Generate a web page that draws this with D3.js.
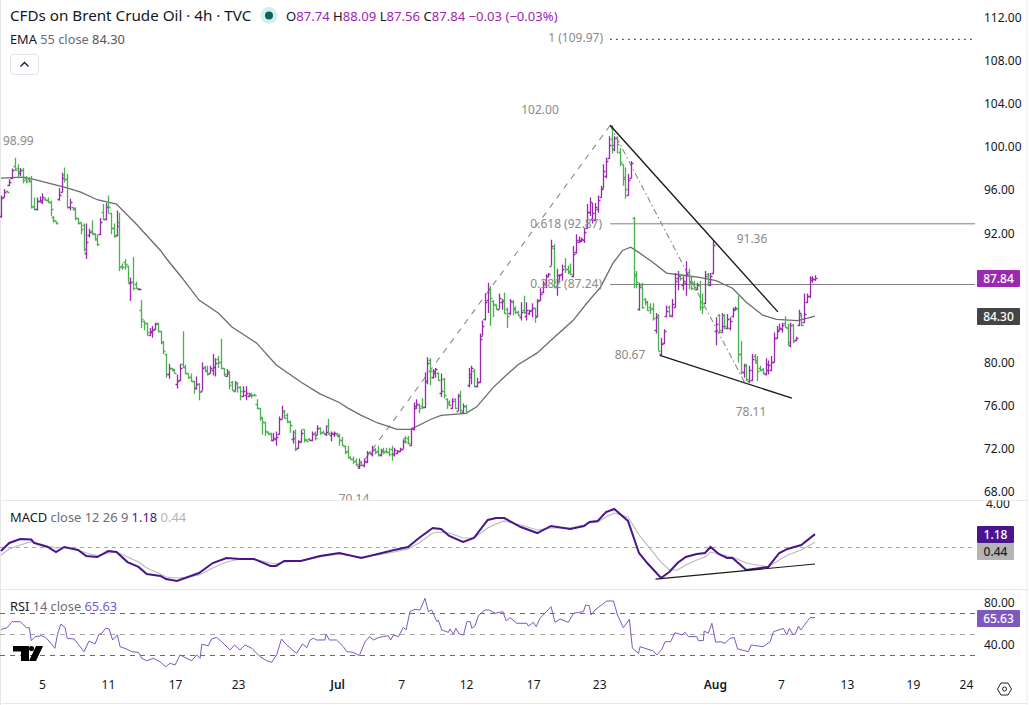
<!DOCTYPE html>
<html><head><meta charset="utf-8">
<script src="https://cdn.jsdelivr.net/npm/d3@7/dist/d3.min.js"></script>
<style>
html,body{margin:0;padding:0;background:#fff}
svg{display:block}
text{font-family:"Noto Sans",sans-serif}
.ax text{font-size:12px;fill:#131722;font-family:"Noto Sans",sans-serif}
</style></head><body><div id="c"></div>
<script>
const highs=[95.5,96.1,95.95,97,98,98.99,98.4,98.05,98.05,97.3,
97.2,97.3,95.3,95.3,95.4,95.7,95.3,95.3,95,93.6,
93.1,96.2,97.6,98.1,97.5,95.2,94.4,94.4,93.4,93,
92.9,92.9,92.4,93.2,92,91.9,93.4,94.7,94.8,95.5,
93.9,92.9,94.1,93.9,89.2,89.6,89,87.9,89.8,87.5,
86.9,85.8,83.9,83.7,83.2,83.4,83.7,83.7,82.9,82,
80.8,79.9,79.5,79.4,78.9,79.9,82.9,79.8,79,79,
78.3,78.7,78.1,80,79.7,79.7,79.7,80.8,80.4,80.6,
82.2,79.5,79.4,79.2,78.3,78.3,78.2,77.8,77.8,77.8,
77.2,77.2,77.1,76.6,75.8,74.9,74.5,73.6,73.5,73.5,
73.6,75,76,75.6,75.3,74.6,73.7,73.8,72.8,73.8,
73.8,72.9,73,73.6,73.6,74.2,74,73.7,74.2,74.8,
73.6,73.6,73.5,73.4,73.1,72.3,72.3,71.3,71.3,71.1,
71.1,70.9,71.1,71.8,71.8,72.3,72.1,72.3,72,72.1,
72.1,72.1,72.3,72.1,71.9,72.1,72.9,73.2,73.2,73.9,
76.3,76.6,76.2,76.7,79.1,80.5,80.4,79.4,79.5,79.1,
79,78.6,76.7,76.5,76.7,76.7,77.1,77.4,76.2,76.1,
79.5,79.7,79.4,78.6,82.7,83.9,86.4,87.4,87.1,85.8,
85.4,86.4,85.9,86.5,85.1,85.9,85.8,85.2,84.8,85.6,
86.2,85.6,84.9,85.5,85.1,85.9,86.9,87.6,88.2,88.3,
91.4,91,88.7,88.2,89.1,89.7,89,89.2,90.8,91.9,
91.7,91.6,92.5,94.7,95.3,94.8,94.8,95.5,96.4,98.4,
99,101,102,101,101,99.9,98.4,98.1,97.5,98.7,
93.5,88.5,87.4,87.4,86,85.7,85.5,85.5,84.6,84.5,
82.3,83.1,85.3,85.3,85.9,88.3,88.5,88.2,88,89.4,
88.7,88,87.6,87.4,87.6,86.4,88.5,88.3,88.3,91.36,
84.2,84.5,84.6,84.5,84.5,84.2,85.1,85.2,86.2,82,
79.9,79.9,79.7,80.8,80.8,80.6,79.7,79.5,80.4,80.2,
80.6,82.8,83.4,83.6,83.7,84.3,83.6,83.7,83.6,82.4,
84.9,84.5,86.4,86.4,88,88,88.09];
const lows=[93.4,95.3,95.8,96.4,97,97.8,97.1,97.3,96.6,96.6,
96.7,94.3,94.1,94.1,94.9,94.7,95,94.8,93.6,93,
92.8,95,95.8,96.7,94.3,94.1,94.1,93.2,92.8,91.9,
90.3,89.6,91.6,91.8,91.3,90.8,91.8,93.2,93.2,93.8,
91.9,91.6,91.7,88.5,88.6,88.6,87.5,85.7,86.7,86.8,
86.7,83.2,83,82.5,82.5,82.3,83,82.8,81.7,80.8,
78.6,78.5,79.2,79,77.6,78.3,79.5,78.9,78.5,78.2,
77.1,77.5,76.5,77.4,79.1,78.8,79,78.8,78.7,79.5,
79.4,78.7,78.7,77.5,77.4,77.4,77.2,76.5,76.8,76.5,
76.8,76.7,76.9,75.7,74.6,73.3,73.2,73.3,72.7,72.7,
72.3,73.3,74.8,74.8,74.4,73.5,72.5,71.8,72,72.6,
72.6,72.7,72.7,72.7,72.8,73.3,73.3,73.4,73.2,73.3,
72.7,73.1,73.1,72.3,72.3,71.5,71.1,71,70.6,70.4,
70.14,70.4,70.3,70.7,71.5,71.3,71.5,71.3,71.3,71.5,
71.6,71.3,70.9,71.3,71.5,71.7,72,72.5,72.4,72.3,
73.7,75.7,75.3,75.7,75.8,78,77.9,78.5,78.6,78.3,
76.8,76.7,75.7,76,75.7,75.7,75.5,75.3,75.3,75.3,
77.7,78,77.7,77.7,78.1,82.5,83.9,84.6,83.4,84.2,
84.9,85,84.9,84.5,83.2,84.4,84.4,84.5,84.3,83.9,
84.5,83.9,84.4,84.2,83.7,84.2,85.7,86.4,86.9,87.9,
89,86.9,86.2,87.5,87.6,88.3,88.2,88.1,87.9,90.1,
91.1,91.2,91.1,92.4,93.6,92.9,93.1,93.9,95.3,96.2,
97.1,98.9,99.4,99.6,99.4,98.2,96.4,95.2,95.5,97.1,
86.9,86.9,84.8,85,85.3,84.8,84.5,83.9,82.7,81.1,
80.67,81.7,84.2,84.2,84.2,85.1,86.7,87.6,86.7,86.2,
86.8,86.7,86.7,86.7,84.8,84.5,85.4,87.1,87.1,88.2,
81.6,82.7,82.8,83.1,83.1,83,84.2,84.9,80,78.9,
78.6,78.3,78.11,78.3,79.9,78.3,79.2,78.9,78.8,78.9,
79.2,80,82.2,83,82.8,83.2,81.6,81.4,81.8,82,
83.4,83.4,83.7,85.5,86,87.4,87.56];
const opens=[93.6,95.4,95.95,96.5,97.1,98.2,98,97.6,97.9,97.1,
97,96.8,94.5,94.2,95,94.9,95.2,95.1,94.9,93.5,
93.1,95.2,95.8,97.4,97,94.4,94.4,94.3,93.4,93,
92.8,90.2,91.8,92.2,91.9,91.5,91.9,94,93.3,94.5,
93.9,92.5,91.8,93,89,89.3,89,87.4,87.5,87.3,
86.8,84.9,83.9,83.7,82.6,82.8,83.1,83.7,82.9,81.9,
80.8,78.9,79.5,79.4,78,78.4,79.9,79.6,79,78.7,
78.3,77.6,78,77.4,79.6,79.3,79,79.3,79.6,80.3,
80.1,79.5,78.8,79.2,78.2,77.4,78.1,77.7,76.9,77,
76.9,77.1,77,76.2,75.8,74.9,74.5,73.6,73.5,72.8,
72.9,73.4,74.8,75.5,75.1,74.6,72.9,73.6,72.1,72.6,
73.8,72.9,72.9,72.8,73.5,73.3,73.9,73.6,73.4,74.1,
73.3,73.4,73.4,73.2,72.8,72.3,71.8,71.2,71.1,70.9,
70.4,70.8,70.5,70.8,71.7,71.5,72,71.8,71.4,71.9,
71.8,71.7,72,71.5,71.6,71.8,72,73,73,72.4,
73.8,75.8,76.1,76,75.9,78.3,80.2,78.7,79,79,
77.2,78.5,76.6,76.3,75.8,76.6,75.5,77,75.4,76,
77.9,78.9,79.2,77.8,78.2,82.5,84,85.8,86.5,85.7,
85.3,85,85.6,85.8,85,84.6,85.6,85.1,84.7,84.2,
84.9,84.3,84.6,84.9,85.1,84.3,85.8,86.5,87.3,88,
89,90.6,87,87.6,88.2,89,88.7,88.5,88,90.3,
91.2,91.3,91.4,92.5,94,93.3,93.2,94.2,95.4,96.2,
97.3,99,100.7,99.8,100.8,99.5,98.4,97.2,95.5,97.1,
93.4,88.2,85,87.2,85.9,85.6,85.2,85.1,83,84.4,
80.8,81.8,84.3,85.2,84.3,85.2,87.8,88.1,87.2,87.4,
88.4,87.6,87.4,86.8,87.2,85.6,85.5,88.2,87.2,88.3,
82.9,84.4,82.8,84.4,83.2,83.2,84.3,85,85,80.8,
79.1,79.7,78.3,78.4,80.6,80.2,79.5,79.4,78.9,79.3,
79.3,80.1,82.3,83,83.1,83.7,83.2,81.6,83.5,82.1,
83.5,84.4,83.8,85.6,86.2,87.7,87.74];
const closes=[95.3,95.8,95.85,96.7,97.9,97.9,97.8,97.9,96.9,96.8,
96.8,94.4,94.2,95,95.1,95.4,95.1,94.9,94.2,93.2,
92.9,95.5,97.1,97,94.4,94.9,94.2,93.4,92.9,92.4,
90.5,91.2,92.1,92,91.5,91,93,93.3,94.4,94.4,
92.5,91.7,92.7,88.9,88.9,89.1,87.5,87.5,86.9,86.9,
86.85,84,83.7,82.8,82.9,83,83.6,82.9,81.9,81.1,
78.9,79.5,79.3,79,78.3,79.5,79.6,79,78.7,78.3,
77.6,78,77.3,79.5,79.2,78.9,79.5,79.6,80,80.1,
79.5,78.9,79,77.9,77.5,78.1,77.7,77.4,77.4,77.2,
77,77,76.95,75.8,75,74.5,73.7,73.4,72.8,73,
73.1,74.8,75.5,74.9,74.5,74.2,73,72,72.7,73.5,
72.8,72.75,72.8,73.4,73,73.9,73.5,73.5,73.6,73.5,
73.5,73.5,73.3,72.8,72.4,71.7,71.2,71.05,70.9,70.6,
70.8,70.5,70.9,71.6,71.6,71.9,71.7,71.5,71.8,71.7,
71.7,71.5,71.5,71.9,71.8,72,72.7,72.6,72.5,73.9,
76,76.2,75.8,75.9,78.3,80,79.2,79.2,79.4,78.4,
77.4,77,76.2,76.1,76.4,75.8,76.9,75.6,76,75.4,
78.7,79.5,77.8,78.2,82.2,83.4,85.6,86.8,86,85.4,
85,86,85.7,84.6,84.3,85.7,85,84.7,84.4,84.7,
84.7,84.9,84.8,85.1,84.2,85.7,86.4,87.3,88,88.2,
90.8,87.5,88.1,88.1,88.7,88.7,88.4,88.2,90.1,91.4,
91.4,91.5,92.1,94,94.9,93.9,94.4,95.1,96.1,97.8,
98.7,100.2,100.2,100.8,100.3,98.6,97,96.1,96.9,98.5,
88,87.5,87,85.2,85.7,84.9,85,84.1,84.2,81.1,
81.7,82.9,84.8,84.4,85.4,87.6,88,87.8,87.6,88.2,
87.5,86.9,87,87.2,85.2,85.2,88,87.5,88,90.9,
83.6,83,83.4,83.4,84,83.9,84.9,85.1,80.8,79.1,
79.8,78.5,79.3,80.3,80.1,79.2,79.3,79,79.9,79.8,
80.1,82.3,82.9,83.2,83.5,83.3,81.9,83.5,82,82.3,
84.6,83.5,84.5,86.2,87.8,87.75,87.84];

const emaBars=[0,8,12,18,24,29,35,42,49,58,60,66,72,79,84,93,100,109,116,123,126,131,137,144,149,156,160,169,173,179,184,188,195,201,208,213,218,222.5,226,229,232,237,242,248,254,260,266,271,277,282,289.5,293,296];
const emaValues=[97.1,97.2,97,96.6,96.2,95.8,95.1,94.7,92.9,90.4,89.7,87.8,85.8,84.6,83.3,81.8,79.8,78.2,77.1,76.3,75.8,75.1,74.4,73.8,73.8,74.7,75.1,75.3,75.9,77.7,78.9,79.8,80.9,82.3,83.9,85.5,87,89.2,90.4,90.7,90.2,89.3,88.3,88.1,87.9,87.6,86.9,85.6,84.4,84,83.9,84.1,84.3];

const macdBars=[0,3,7,11,12,17,20,23,28,31,35,39,42,46,50,53,58,60,64,68,72,77,82,87,92,98,100,103,109,116,123,131,137,143,148,152,157,160,163,168,172,177,180,183,189,195,200,207,212,214,217,220,223,228,232,235,240,243,246,249,253,256,258,261,264,266,271,279,283,286,291,296];
const macdValues=[-.37,.37,.73,.69,.37,0,-.46,0,-.28,-.83,-.92,-.37,-.46,-1.38,-1.83,-2.48,-2.66,-2.94,-3.12,-2.75,-2.39,-1.47,-1.01,-1.1,-1.1,-1.74,-1.74,-1.28,-1.28,-.83,-.55,-1.01,-.64,-.28,0,.83,1.74,1.65,1.01,.46,.83,2.48,2.66,2.66,1.83,1.28,1.93,1.65,1.93,2.29,2.39,3.21,3.49,2.39,-.55,-1.47,-2.84,-2.29,-1.47,-.92,-.64,-.55,0,-.64,-1.01,-1.01,-2.11,-1.83,-.55,-.18,.18,1.18];
const signalValues=[-.73,-.18,.18,.49,.46,.09,-.09,-.05,-.28,-.55,-.78,-.55,-.46,-.92,-1.38,-1.93,-2.48,-2.75,-2.84,-2.75,-2.57,-1.93,-1.38,-1.1,-1.1,-1.47,-1.56,-1.38,-1.28,-.92,-.64,-.92,-.73,-.46,-.18,.37,1.28,1.38,1.28,.83,.83,1.74,2.11,2.39,2.02,1.56,1.74,1.74,2.02,2.2,2.29,2.75,3.12,2.75,1.1,.18,-1.38,-2.11,-2.11,-1.65,-1.19,-.92,-.46,-.64,-.83,-.92,-1.47,-1.83,-1.19,-.73,-.28,.44];

const rsiBars=[0,1,2,4,7,9.3,10.3,11,12.4,14.8,16.6,19.6,20.5,21.8,23.3,24.1,26.6,30.2,32,34.2,35.6,36.6,38,39.3,40.6,42.3,43.3,45.7,47.5,50,51.2,53,55.4,57.8,59.9,61.5,63.3,65.1,69.3,71.2,72.4,73,75.4,76.6,78.4,80.2,83.3,84.9,86.9,88.7,91.2,94.2,96.6,98.4,100.2,102,103.9,107.5,109.6,111.2,112.4,113.6,114.8,117.8,118.2,119.4,122,124.5,125.7,128.1,130.3,132.4,134,135.4,137.2,139,140.8,141.7,142.7,144.5,146.3,147.3,148.7,150.5,152.4,154.2,155.4,156.6,158.5,159,160.3,162.7,163.3,164.5,165.4,166.6,168.2,169.4,170.6,171.2,172.4,173.6,176,177.5,179.7,182.5,183.7,185.1,187.6,191.2,191.8,193.6,194.6,196,200,201.5,203.3,206.3,208.2,211.8,212.6,213.9,214.6,216,220.3,222.7,224.2,226.3,228.5,229.6,231.8,232.4,237.2,238.5,240.3,241.5,243.5,245.1,247.6,248.8,250,253,253.6,255.4,255.7,257.2,258.5,259.9,261.5,263.3,265.1,266.6,267.9,271.8,272.8,277.2,279.7,280.9,284.5,285.7,286.7,287.9,288.8,290,290.8,294.2,296];
const rsiValues=[53.8,55.4,55.4,61.7,61.7,56,56,43.7,47.5,48.4,45.9,36.4,49.1,59.5,56,45.9,45.2,33.2,43.3,40.5,49.7,50.6,55.4,54.8,44.3,49.1,37.9,35.7,33.2,32.5,26.8,24.6,26.8,23.6,18.9,22.1,20.5,30,24.6,30,26.8,40.2,38.9,45.2,46.8,42.7,34.8,39.5,34.8,39.5,36.4,28.4,24.6,23,30,45.2,39.5,31.6,40.5,37,44.3,45.9,44.3,44.3,50,44.3,44.3,37.9,33.2,32.5,29.4,42.7,47.5,44.3,46.5,47.5,48.4,44.3,49.1,47.5,56.4,53.8,71.3,73.5,72.9,84,71.3,72.9,61.7,63.3,53.8,51.6,54.8,49.7,55.4,50,49.1,61.7,61.7,55.4,57.9,67.5,72.9,72.9,69.7,71.3,62.4,65.6,60.2,60.2,57.6,61.1,57,64.9,76,61.1,64.3,61.1,69.7,71.3,77.6,77,68.1,72.9,81.4,81.4,68.1,56,64,36.4,31.6,37.9,33.8,30,35.4,42.7,42.7,51.3,49.1,51.6,47.5,47.5,43.7,43.7,52.9,50.6,60.2,42.1,42.7,41.1,45.9,46.5,35.7,33.2,39.5,37.9,42.7,52.2,55.4,49.1,55.4,49.7,49.7,57.6,53.8,65.6,65.63];

const priceTicks=[112,108,104,100,96,92,80,76,72,68];
const macdTicks=[4];
const rsiTicks=[80,40];
const rsiLevels=[70,50,30];
const xTickBars=[14.9,38.9,63.3,86.2,122.2,145.5,169.1,193.5,217.5,259.6,283.6,307.6,331.6,350.9];
const xTickLabels=["5","11","17","23","Jul","7","12","17","23","Aug","7","13","19","24"];
const fibLevels=[92.87,87.24,109.97];
const fibStartBar=221.5, fibEndBar=354.2;
const swingUp=[[129.8,70.14],[221.5,102]];
const swingDown=[[221.5,102],[270.5,78.11]];
const upperTrend=[[221.5,102],[282.5,84.7]];
const lowerTrend=[[239.6,80.67],[287.6,76.7]];
const macdTrend=[[238,-2.94],[296,-1.56]];
const priceNotes=[["98.99",3,141,"start"],["102.00",540,110,"middle"],["0.618 (92.87)",602,224,"end"],["0.382 (87.24)",602,284,"end"],["91.36",752,239,"middle"],["80.67",630,355,"middle"],["78.11",751,412,"middle"],["70.14",354,499,"middle"]];

const W=1031,H=705;
const PUR="#9C27B0",GRN="#4CAF50",GRID="#e6e7ea";
const svg=d3.select("#c").append("svg").attr("width",W).attr("height",H).attr("viewBox",`0 0 ${W} ${H}`);
const defs=svg.append("defs");
const clip=(id,y0,y1,x1)=>defs.append("clipPath").attr("id",id).append("rect").attr("x",0).attr("y",y0).attr("width",x1||W).attr("height",y1-y0);
clip("cMain",0,500);clip("cAxisTop",0,500);clip("cAxisMacd",500.5,589);

const x=d3.scaleLinear().domain([0,296]).range([1,815]);
const y=d3.scaleLinear().domain([112,68]).range([17.5,492]);
const yM=d3.scaleLinear().domain([0,4]).range([547,503.4]);
const yR=d3.scaleLinear().domain([70,30]).range([613,655]);

// frame
svg.append("rect").attr("x",0).attr("y",0).attr("width",1).attr("height",H).attr("fill","#e6e6e6");
svg.append("rect").attr("x",1026.5).attr("y",0).attr("width",1).attr("height",H).attr("fill","#ececec");
[500,589,703].forEach(v=>svg.append("line").attr("x1",0).attr("x2",1027).attr("y1",v+.5).attr("y2",v+.5).attr("stroke",GRID));

const main=svg.append("g").attr("clip-path","url(#cMain)");
const lineP=d3.line().x(d=>x(d[0])).y(d=>y(d[1]));
// fib levels
main.selectAll("line.fib").data(fibLevels).join("line").attr("class","fib")
 .attr("x1",x(fibStartBar)).attr("x2",x(fibEndBar)).attr("y1",d=>y(d)).attr("y2",d=>y(d))
 .attr("stroke",(d,i)=>i==2?"#333":"#808080").attr("stroke-width",(d,i)=>i==2?1.3:1).attr("stroke-dasharray",(d,i)=>i==2?"1.5,4.5":null);
main.append("path").attr("d",lineP(swingUp)).attr("fill","none").attr("stroke","#8a8a8a").attr("stroke-width",1.1).attr("stroke-dasharray","6,6");
main.append("path").attr("d",lineP(swingDown)).attr("fill","none").attr("stroke","#8a8a8a").attr("stroke-width",1.1).attr("stroke-dasharray","6,3,1.5,3");
// EMA
main.append("path").datum(emaBars.map((b,i)=>[b,emaValues[i]])).attr("d",lineP).attr("fill","none").attr("stroke","#6c6c6c").attr("stroke-width",1.3);
// bars
const g=main.append("g");
closes.forEach((c,i)=>{
  const px=Math.round(x(i))+.5;
  g.append("path").attr("d",`M${px},${y(highs[i])}V${y(lows[i])}M${px-2},${Math.round(y(opens[i]))+.5}H${px}M${px},${Math.round(y(c))+.5}H${px+2}`)
   .attr("fill","none").attr("stroke",c>=opens[i]?PUR:GRN).attr("stroke-width",1.3);
});
// trend lines
[upperTrend,lowerTrend].forEach(t=>main.append("path").attr("d",lineP(t)).attr("fill","none").attr("stroke","#1a1a1a").attr("stroke-width",1.4));
// notes
main.selectAll("text.n").data(priceNotes).join("text").attr("class","n")
 .attr("x",d=>d[1]).attr("y",d=>d[2]+4).attr("text-anchor",d=>d[3]).attr("font-size",12).attr("fill","#8a8a8a").text(d=>d[0]);
main.append("text").attr("x",603).attr("y",42).attr("text-anchor","end").attr("font-size",12).attr("fill","#8a8a8a").text("1 (109.97)");

// MACD
const lineM=d3.line().x((d,i)=>x(macdBars[i])).y(d=>yM(d));
svg.append("line").attr("x1",0).attr("x2",975).attr("y1",547.5).attr("y2",547.5).attr("stroke","#a8a8a8").attr("stroke-dasharray","4,4");
svg.append("path").attr("d",lineM(signalValues)).attr("fill","none").attr("stroke","#b9b9b9").attr("stroke-width",1.1);
svg.append("path").attr("d",lineM(macdValues)).attr("fill","none").attr("stroke","#4A148C").attr("stroke-width",2);
svg.append("path").attr("d",d3.line().x(d=>x(d[0])).y(d=>yM(d[1]))(macdTrend)).attr("fill","none").attr("stroke","#1a1a1a").attr("stroke-width",1.2);

// RSI
rsiLevels.forEach((v,i)=>svg.append("line").attr("x1",0).attr("x2",975).attr("y1",yR(v)+.5).attr("y2",yR(v)+.5)
  .attr("stroke",i==1?"#a8a8a8":"#6a6a6a").attr("stroke-dasharray","5,5"));
svg.append("path").attr("d",d3.line().x((d,i)=>x(rsiBars[i])).y(d=>yR(d))(rsiValues)).attr("fill","none").attr("stroke","#7E57C2").attr("stroke-width",1);

// logo
svg.append("path").attr("fill","#000").attr("d","M13,646H29V661H21V651.5H13Z M36,646H43L36,661H29Z");
svg.append("circle").attr("cx",31.5).attr("cy",648.5).attr("r",2.6).attr("fill","#000");

// axes
const styleAxis=s=>{s.attr("class","ax");s.select(".domain").remove();s.selectAll(".tick line").remove();};
svg.append("g").attr("clip-path","url(#cAxisTop)").append("g").attr("transform","translate(983,0)")
  .call(d3.axisRight(y).tickValues(priceTicks).tickSize(0).tickPadding(1).tickFormat(d3.format(".2f"))).call(styleAxis);
svg.append("g").attr("clip-path","url(#cAxisMacd)").append("g").attr("transform","translate(985,0)")
  .call(d3.axisRight(yM).tickValues(macdTicks).tickSize(0).tickPadding(1).tickFormat(d3.format(".2f"))).call(styleAxis);
svg.append("g").attr("transform","translate(983,0)")
  .call(d3.axisRight(d3.scaleLinear().domain([80,40]).range([602.5,644.5])).tickValues(rsiTicks).tickSize(0).tickPadding(1).tickFormat(d3.format(".2f"))).call(styleAxis);
const xAx=svg.append("g").attr("transform","translate(0,680)")
  .call(d3.axisBottom(x).tickValues(xTickBars).tickSize(0).tickPadding(0).tickFormat((d,i)=>xTickLabels[i])).call(styleAxis);
xAx.selectAll(".tick text").attr("font-weight",(d,i)=>/[A-Z]/.test(xTickLabels[i])?600:400);

// value labels
const tag=(t,x0,y0,w,h,bg,fg)=>{svg.append("rect").attr("x",x0).attr("y",y0).attr("width",w).attr("height",h).attr("rx",1).attr("fill",bg);
 svg.append("text").attr("x",x0+w/2).attr("y",y0+h/2+4.2).attr("text-anchor","middle").attr("font-size",12).attr("font-weight",500).attr("fill",fg).text(t);};
tag("87.84",977,270,43,17,PUR,"#fff");
tag("84.30",977,308,43,17,"#444","#fff");
tag("1.18",977,526,37,17,"#4A148C","#fff");
tag("0.44",977,543,37,17,"#b4b4b4","#222");
tag("65.63",977,610,43,17,"#7E57C2","#fff");

// hex icon
svg.append("path").attr("d","M997.5,689L1001,683H1008L1011.5,689L1008,695H1001Z").attr("fill","none").attr("stroke","#222").attr("stroke-width",1);
svg.append("circle").attr("cx",1004.5).attr("cy",689).attr("r",2).attr("fill","none").attr("stroke","#222");

// header
svg.append("text").attr("x",10).attr("y",21).attr("font-size",15.2).attr("fill","#131722").text("CFDs on Brent Crude Oil · 4h · TVC");
svg.append("circle").attr("cx",269).attr("cy",15.5).attr("r",8.5).attr("fill","#d8eeea");
svg.append("circle").attr("cx",269).attr("cy",15.5).attr("r",4).attr("fill","#056656");
const ohlc=svg.append("text").attr("x",286).attr("y",20.5).attr("font-size",13.1);
[["O","#131722"],["87.74",PUR],[" H","#131722"],["88.09",PUR],[" L","#131722"],["87.56",PUR],[" C","#131722"],["87.84",PUR],[" −0.03 (−0.03%)",PUR]].forEach(d=>ohlc.append("tspan").attr("fill",d[1]).text(d[0]));
const ema=svg.append("text").attr("x",10).attr("y",44).attr("font-size",12.8);
[["EMA","#131722"],[" 55 close","#6a6d78"],["  84.30","#555"]].forEach(d=>ema.append("tspan").attr("fill",d[1]).text(d[0]));
svg.append("rect").attr("x",10.5).attr("y",54.5).attr("width",28).attr("height",20).attr("rx",3).attr("fill","#fff").attr("stroke","#e0e3eb");
svg.append("path").attr("d","M20.5,66.5L24.5,62.5L28.5,66.5").attr("fill","none").attr("stroke","#131722").attr("stroke-width",1.3);
const macdL=svg.append("text").attr("x",10).attr("y",522).attr("font-size",12.9);
[["MACD","#131722"],[" close 12 26 9","#6a6d78"],["  1.18","#4A148C"],["  0.44","#b4b4b4"]].forEach(d=>macdL.append("tspan").attr("fill",d[1]).text(d[0]));
const rsiL=svg.append("text").attr("x",10).attr("y",611).attr("font-size",12.8);
[["RSI","#131722"],[" 14 close","#6a6d78"],["  65.63","#7E57C2"]].forEach(d=>rsiL.append("tspan").attr("fill",d[1]).text(d[0]));
</script></body></html>
